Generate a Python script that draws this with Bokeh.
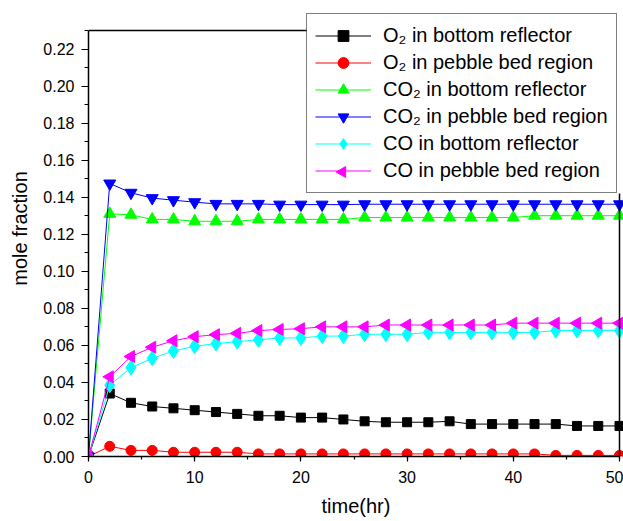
import numpy as np
from bokeh.plotting import figure
from bokeh.models import (Range1d, SingleIntervalTicker, NumeralTickFormatter,
                          Legend, LegendItem, LinearAxis, FixedTicker)
from bokeh.embed import file_html
from bokeh.resources import INLINE

# ---- data -------------------------------------------------------------
time_hr = [0, 2, 4, 6, 8, 10, 12, 14, 16, 18, 20, 22, 24, 26, 28, 30,
           32, 34, 36, 38, 40, 42, 44, 46, 48, 50]

o2_bottom = [0.0, 0.034, 0.029, 0.027, 0.026, 0.025, 0.024, 0.023, 0.022,
             0.022, 0.021, 0.021, 0.020, 0.019, 0.0185, 0.0185, 0.0185,
             0.019, 0.0175, 0.0175, 0.0175, 0.0175, 0.0175, 0.0165, 0.0165,
             0.0165]
o2_pebble = [0.0, 0.0055, 0.0033, 0.0033, 0.0023, 0.0023, 0.0023, 0.0023,
             0.0014, 0.0014, 0.0014, 0.0014, 0.0014, 0.0014, 0.0014, 0.0014,
             0.0014, 0.0014, 0.0014, 0.0014, 0.0014, 0.0014, 0.0006, 0.0006,
             0.0006, 0.0006]
co2_bottom = [0.0, 0.131, 0.1305, 0.128, 0.128, 0.127, 0.127, 0.127, 0.128,
              0.128, 0.128, 0.128, 0.128, 0.129, 0.129, 0.129, 0.129, 0.129,
              0.129, 0.129, 0.129, 0.130, 0.130, 0.130, 0.130, 0.130]
co2_pebble = [0.0, 0.1474, 0.1424, 0.1395, 0.1384, 0.1373, 0.1364, 0.1364,
              0.1364, 0.1360, 0.1360, 0.1360, 0.1360, 0.1362, 0.1362, 0.1362,
              0.1362, 0.1362, 0.1362, 0.1362, 0.1362, 0.1362, 0.1362, 0.1362,
              0.1362, 0.1362]
co_bottom = [0.0, 0.0385, 0.048, 0.053, 0.057, 0.0595, 0.061, 0.062, 0.063,
             0.064, 0.064, 0.065, 0.065, 0.066, 0.066, 0.066, 0.067, 0.067,
             0.067, 0.067, 0.067, 0.067, 0.068, 0.068, 0.068, 0.068]
co_pebble = [0.0, 0.043, 0.054, 0.059, 0.0625, 0.0647, 0.0658, 0.0665,
             0.068, 0.0686, 0.069, 0.070, 0.070, 0.070, 0.071, 0.071, 0.071,
             0.071, 0.071, 0.071, 0.072, 0.072, 0.072, 0.072, 0.072, 0.072]

series_labels = ["O₂ in bottom reflector", "O₂ in pebble bed region",
                 "CO₂ in bottom reflector", "CO₂ in pebble bed region",
                 "CO in bottom reflector", "CO in pebble bed region"]

X_MAX = 50
Y_MAX = 0.23

# ---- layout -----------------------------------------------------------
FONT = "Liberation Sans"
W, H = 623, 521
LEFT, BOTTOM = 88, 65
AX_RIGHT_PX, AX_TOP_PX = 619, 30          # where the axes box ends
LEG_LEFT_PX, LEG_BOTTOM_PX = 306, 193     # legend box corner
PAD, ROW_H, GLYPH_W = 8, 27, 56
frame_w = W - LEFT
frame_h = H - BOTTOM
x_end = X_MAX * frame_w / (AX_RIGHT_PX - LEFT)
y_end = Y_MAX * frame_h / (frame_h - AX_TOP_PX)


def x_of_px(px):
    return (px - LEFT) / frame_w * x_end


def y_of_px(py):
    return (frame_h - py) / frame_h * y_end


p = figure(width=W, height=H, output_backend="svg", toolbar_location=None,
           x_range=Range1d(0, x_end), y_range=Range1d(0, y_end),
           min_border_left=LEFT, min_border_right=0, min_border_top=0,
           min_border_bottom=BOTTOM)
p.background_fill_color = "white"
p.border_fill_color = "white"
p.outline_line_color = None
p.xgrid.visible = False
p.ygrid.visible = False

p.xaxis.ticker = SingleIntervalTicker(interval=10, num_minor_ticks=2)
p.yaxis.ticker = SingleIntervalTicker(interval=0.02, num_minor_ticks=2)
p.yaxis.formatter = NumeralTickFormatter(format="0.00")
p.xaxis.bounds = (0, X_MAX)
p.yaxis.bounds = (0, Y_MAX)

for ax in (p.xaxis[0], p.yaxis[0]):
    ax.axis_line_color = "black"
    ax.axis_line_width = 1.5
    ax.major_tick_line_color = "black"
    ax.minor_tick_line_color = "black"
    ax.major_tick_line_width = 1.2
    ax.minor_tick_line_width = 1.2
    ax.major_tick_in = 0
    ax.minor_tick_in = 0
    ax.major_label_text_font = FONT
    ax.major_label_text_font_size = "16px"
    ax.major_label_text_color = "black"
    ax.axis_label_text_font = FONT
    ax.axis_label_text_font_size = "20px"
    ax.axis_label_text_font_style = "normal"
    ax.axis_label_text_color = "black"

p.xaxis.major_tick_out = 5
p.xaxis.minor_tick_out = 3
p.xaxis.major_label_standoff = 9
p.xaxis.axis_label = "time(hr)"
p.xaxis.axis_label_standoff = 9

p.yaxis.major_tick_out = 7
p.yaxis.minor_tick_out = 4
p.yaxis.major_label_standoff = 7
p.yaxis.axis_label = "mole fraction"
p.yaxis.axis_label_standoff = 9

# top and right edges of the axes box (stopping where the legend covers them)
top_ax = LinearAxis(fixed_location=Y_MAX, bounds=(0, x_of_px(LEG_LEFT_PX)),
                    ticker=FixedTicker(ticks=[]), axis_line_width=1.5,
                    major_tick_line_color=None, minor_tick_line_color=None)
right_ax = LinearAxis(fixed_location=X_MAX,
                      bounds=(0, y_of_px(LEG_BOTTOM_PX)),
                      ticker=FixedTicker(ticks=[]), axis_line_width=1.5,
                      major_tick_line_color=None, minor_tick_line_color=None)
p.add_layout(top_ax, "above")
p.add_layout(right_ax, "right")

specs = [
    (o2_bottom, "black", "square", 9, 0.0),
    (o2_pebble, "red", "circle", 10, 0.0),
    (co2_bottom, "#00ff00", "triangle", 12, 0.0),
    (co2_pebble, "#0000ff", "inverted_triangle", 12, 0.0),
    (co_bottom, "#00ffff", "diamond", 15, 0.0),
    (co_pebble, "#ff00ff", "triangle", 12, np.pi / 2),   # left-pointing
]

items = []
for (vals, color, marker, size, ang), label in zip(specs, series_labels):
    ln = p.line(time_hr, vals, line_color=color, line_width=1)
    sc = p.scatter(time_hr, vals, marker=marker, size=size, angle=ang,
                   fill_color=color, line_color=color)
    # the legend never rotates markers; the left-pointing one is added below
    rends = [ln] if ang else [ln, sc]
    items.append(LegendItem(label=label, renderers=rends))

legend = Legend(items=items,
                location=(LEG_LEFT_PX - LEFT, frame_h - LEG_BOTTOM_PX),
                margin=0, padding=PAD, spacing=0, glyph_height=ROW_H,
                glyph_width=GLYPH_W, label_height=ROW_H, label_standoff=12,
                label_text_font=FONT, label_text_font_size="20px",
                label_text_color="black", border_line_color="black",
                border_line_width=1, background_fill_alpha=0.0)
p.add_layout(legend, "center")

# left-pointing legend symbol for the last legend entry
sym_x = x_of_px(LEG_LEFT_PX + PAD + GLYPH_W / 2)
sym_y = y_of_px(LEG_BOTTOM_PX - PAD - ROW_H / 2)
p.scatter([sym_x], [sym_y], marker="triangle", angle=np.pi / 2, size=11,
          fill_color="#ff00ff", line_color="#ff00ff")

open("out.html", "w").write(file_html(p, INLINE))
